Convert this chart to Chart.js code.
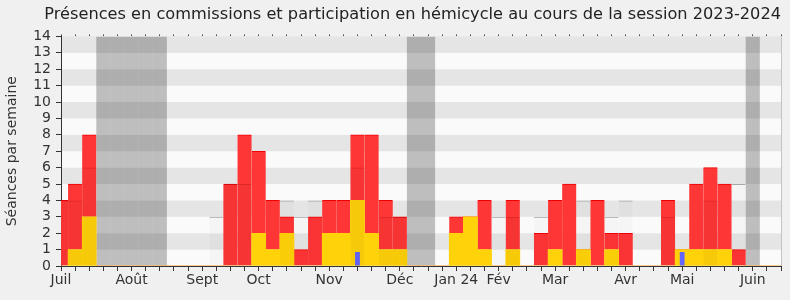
<!DOCTYPE html>
<html>
<head>
<meta charset="utf-8">
<script src="https://cdn.jsdelivr.net/npm/chart.js@4"></script>
<style>
body { margin: 0; background: #f0f0f0; }
</style>
</head>
<body>
<canvas id="grafico" width="790" height="300"></canvas>
<script>
// semaines de la session (lundi de chaque semaine)
const semaines = Array.from({ length: 52 }, (_, i) => {
    const d = new Date(Date.UTC(2023, 5, 26 + 7 * i))
    return d.toISOString().slice(0, 10)
})

// positions des noms de mois sur l'axe
const moisIndex = [0, 5, 10, 14, 19, 24, 28, 31, 35, 40, 44, 49]
const moisNoms = ['Juil', 'Août', 'Sept', 'Oct', 'Nov', 'Déc', 'Jan 24', 'Fév', 'Mar', 'Avr', 'Mai', 'Juin']

const hemicycle = [0, 1, 3, 0, 0, 0, 0, 0, 0, 0, 0, 0, 0, 0, 2, 1, 2, 0, 0, 2, 2, 4, 2, 1, 1, 0, 0, 0, 2, 3, 1, 0, 1, 0, 0, 1, 0, 1, 0, 1, 0, 0, 0, 0, 1, 1, 1, 1, 0, 0, 0, 0]
const commission = [4, 4, 5, 0, 0, 0, 0, 0, 0, 0, 0, 0, 5, 8, 5, 3, 1, 1, 3, 2, 2, 4, 6, 3, 2, 0, 0, 0, 1, 0, 3, 0, 3, 0, 2, 3, 5, 0, 4, 1, 2, 0, 0, 4, 0, 4, 5, 4, 1, 0, 0, 0]
const mediane = [4, 4, 6, null, null, null, null, null, null, null, null, 3, 5, 5, null, null, 4, 3, 4, null, null, 6, null, 3, 3, null, null, null, null, null, null, 3, 3, null, 3, null, null, 4, null, 3, 4, null, null, 3, null, null, 4, null, 5, null, null, null]
const questions = [0, 0, 0, 0, 0, 0, 0, 0, 0, 0, 0, 0, 0, 0, 0, 0, 0, 0, 0, 0, 0, 0.85, 0, 0, 0, 0, 0, 0, 0, 0, 0, 0, 0, 0, 0, 0, 0, 0, 0, 0, 0, 0, 0, 0, 0.85, 0, 0, 0, 0, 0, 0, 0]
const vacances = [0, 0, 0, 14, 14, 14, 14, 14, 0, 0, 0, 0, 0, 0, 0, 0, 0, 0, 0, 0, 0, 0, 0, 0, 0, 14, 14, 0, 0, 0, 0, 0, 0, 0, 0, 0, 0, 0, 0, 0, 0, 0, 0, 0, 0, 0, 0, 0, 0, 14, 0, 0]

Chart.defaults.font.family = "'DejaVu Sans', sans-serif"
Chart.defaults.color = '#333'

// bandes grises horizontales du fond
const bandes = {
    id: 'bandes',
    beforeDraw(chart) {
        const { ctx, chartArea: a, scales: { y } } = chart
        ctx.save()
        for (let v = 0; v < 14; v++) {
            ctx.fillStyle = v % 2 ? '#e5e5e5' : '#fafafa'
            const haut = y.getPixelForValue(v + 1)
            const bas = y.getPixelForValue(v)
            ctx.fillRect(a.left, haut, a.width, bas - haut)
        }
        ctx.strokeStyle = '#c4c4c4'
        ctx.lineWidth = 1
        ctx.beginPath()
        ctx.moveTo(a.right + 0.5, a.top)
        ctx.lineTo(a.right + 0.5, a.bottom)
        ctx.stroke()
        ctx.restore()
    }
}

// la médiane passe-t-elle à l'intérieur d'une barre rouge ?
const dansBarre = (c) => mediane[c.dataIndex] <= hemicycle[c.dataIndex] + commission[c.dataIndex]

const barre = { grouped: false, barPercentage: 1, categoryPercentage: 1, clip: 0 }

const config = {
    type: 'bar',
    data: {
        labels: semaines,
        datasets: [
            { ...barre, label: 'Vacances', data: vacances, stack: 'vac', order: 4, inflateAmount: 0, backgroundColor: 'rgba(0,0,0,0.24)' },
            { ...barre, label: 'Hémicycle', data: hemicycle, stack: 'p', order: 2, backgroundColor: 'rgb(255,210,10)' },
            { ...barre, label: 'Commission', data: commission, stack: 'p', order: 2, backgroundColor: 'rgb(255,54,54)',
              borderColor: 'rgb(240,0,0)', borderWidth: { top: 1, left: 0, right: 0, bottom: 0 } },
            { ...barre, label: 'Questions', data: questions, stack: 'q', order: 1, barPercentage: 0.34, backgroundColor: 'rgb(100,100,255)' },
            { ...barre, label: 'Médiane', data: mediane, stack: 'm', order: 0, inflateAmount: 0,
              backgroundColor: (c) => dansBarre(c) ? 'rgba(0,0,0,0.035)' : 'rgba(0,0,0,0.02)',
              borderColor: (c) => dansBarre(c) ? 'rgba(120,0,0,0.25)' : '#a8a8a8',
              borderWidth: { top: 1, left: 0, right: 0, bottom: 0 } }
        ]
    },
    options: {
        responsive: false,
        animation: false,
        layout: { padding: { left: 0, right: 9, top: 0, bottom: 0 } },
        plugins: {
            legend: { display: false },
            tooltip: { enabled: false },
            title: {
                display: true,
                align: 'end',
                text: 'Présences en commissions et participation en hémicycle au cours de la session 2023-2024',
                font: { size: 16.2, weight: 'normal' },
                color: '#222',
                padding: { top: 5, bottom: 6 }
            }
        },
        scales: {
            x: {
                type: 'category',
                offset: false,
                z: 1,
                grid: { offset: false, drawOnChartArea: false, tickLength: 5, color: '#333' },
                border: { display: true, color: '#333' },
                ticks: {
                    autoSkip: false,
                    maxRotation: 0,
                    padding: 1,
                    font: { size: 14 },
                    callback: (v, i) => {
                        const k = moisIndex.indexOf(i)
                        return k >= 0 ? moisNoms[k] : ''
                    }
                },
                afterFit: (s) => { s.height = 34 }
            },
            xHaut: {
                type: 'category',
                position: 'top',
                offset: false,
                grid: { offset: false, drawOnChartArea: false, tickLength: 2, color: '#444' },
                border: { display: false },
                ticks: { display: false },
                afterFit: (s) => { s.height = 6 }
            },
            y: {
                stacked: true,
                min: 0,
                max: 14,
                z: 1,
                grid: { drawOnChartArea: false, tickLength: 5, color: '#333' },
                border: { display: true, color: '#333' },
                ticks: { stepSize: 1, autoSkip: false, padding: 5, font: { size: 14 } },
                title: { display: true, text: 'Séances par semaine', font: { size: 14 }, color: '#333' },
                afterFit: (s) => { s.width = 61 }
            }
        }
    },
    plugins: [bandes]
}

const graficoPresences = new Chart(document.querySelector('#grafico'), config)
</script>
</body>
</html>
